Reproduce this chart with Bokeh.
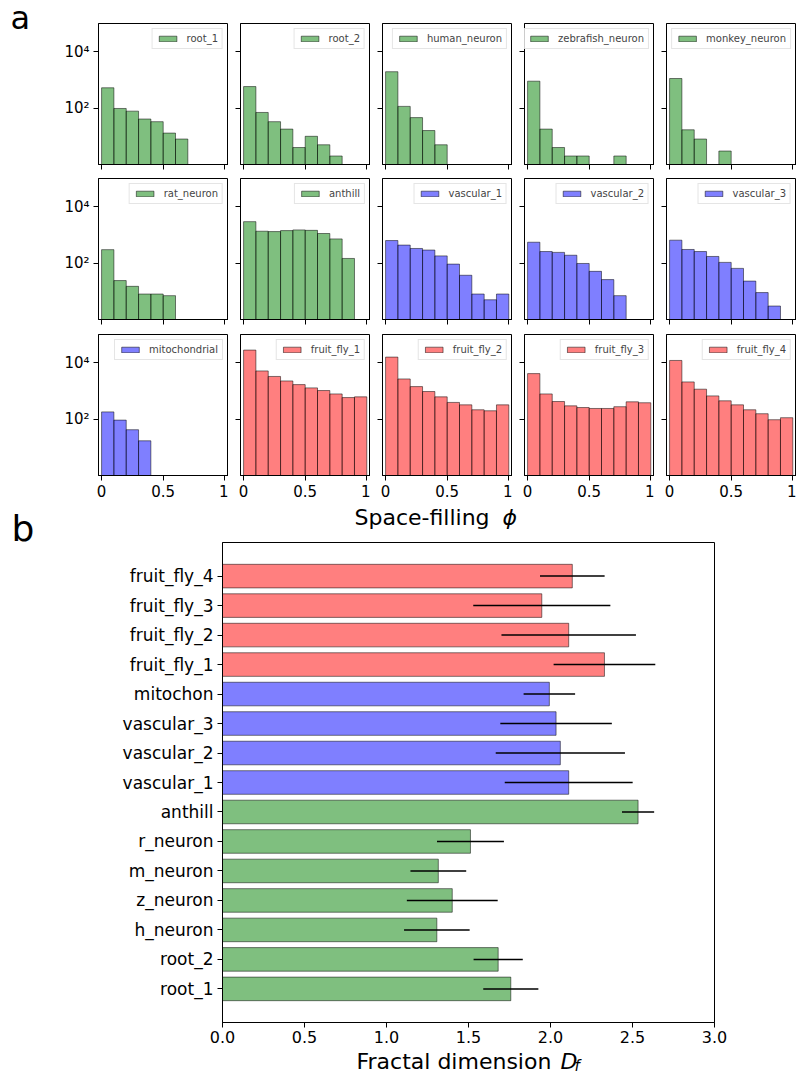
from bokeh.plotting import figure
from bokeh.layouts import column, row
from bokeh.models import Range1d, FixedTicker, PrintfTickFormatter, Plot
from bokeh.core.properties import value
from bokeh.embed import file_html
from bokeh.resources import INLINE

FONT = "DejaVu Sans"

# ---------------- data: panel a (histograms, 10 bins of space-filling phi) ----------------
bin_edges = [0.0, 0.1, 0.2, 0.3, 0.4, 0.5, 0.6, 0.7, 0.8, 0.9, 1.0]

root_1 = [525, 97, 78, 41, 33, 13, 8, 0, 1, 0]
root_2 = [580, 70, 33, 18, 4, 10, 5, 2, 1, 0]
human_neuron = [1950, 115, 46, 16, 5, 1, 0, 0, 0, 0]
zebrafish_neuron = [900, 18, 4, 2, 2, 1, 1, 2, 0, 0]
monkey_neuron = [1120, 17, 8, 1, 3, 0, 1, 0, 1, 0]
rat_neuron = [300, 24, 15, 8, 8, 7, 0, 0, 0, 0]
anthill = [2950, 1350, 1310, 1420, 1500, 1450, 1120, 720, 146, 0]
vascular_1 = [630, 435, 330, 290, 180, 92, 37, 8, 5, 8]
vascular_2 = [550, 257, 240, 190, 97, 51, 26, 7, 0, 0]
vascular_3 = [650, 304, 257, 172, 106, 65, 23, 9, 3, 0]
mitochondrial = [180, 92, 42, 17, 0, 0, 0, 0, 0, 0]
fruit_fly_1 = [28000, 5100, 3250, 2250, 1670, 1280, 1030, 780, 580, 615]
fruit_fly_2 = [15800, 2650, 1420, 950, 615, 390, 320, 214, 197, 320]
fruit_fly_3 = [4100, 780, 420, 295, 257, 238, 238, 275, 410, 380]
fruit_fly_4 = [12000, 2080, 1150, 665, 445, 320, 214, 155, 95, 112]

hist_names = ["root_1", "root_2", "human_neuron", "zebrafish_neuron", "monkey_neuron",
              "rat_neuron", "anthill", "vascular_1", "vascular_2", "vascular_3",
              "mitochondrial", "fruit_fly_1", "fruit_fly_2", "fruit_fly_3", "fruit_fly_4"]
hist_counts = [root_1, root_2, human_neuron, zebrafish_neuron, monkey_neuron,
               rat_neuron, anthill, vascular_1, vascular_2, vascular_3,
               mitochondrial, fruit_fly_1, fruit_fly_2, fruit_fly_3, fruit_fly_4]
hist_groups = ["g", "g", "g", "g", "g",
               "g", "g", "b", "b", "b",
               "b", "r", "r", "r", "r"]

# ---------------- data: panel b (fractal dimension) ----------------
bar_names = ["root_1", "root_2", "h_neuron", "z_neuron", "m_neuron", "r_neuron", "anthill",
             "vascular_1", "vascular_2", "vascular_3", "mitochon",
             "fruit_fly_1", "fruit_fly_2", "fruit_fly_3", "fruit_fly_4"]
bar_values = [1.758, 1.681, 1.307, 1.401, 1.316, 1.512, 2.534,
              2.111, 2.060, 2.034, 1.993,
              2.329, 2.111, 1.947, 2.133]
bar_errors = [0.168, 0.150, 0.200, 0.277, 0.170, 0.204, 0.098,
              0.390, 0.394, 0.340, 0.157,
              0.310, 0.410, 0.418, 0.197]
bar_groups = ["g"] * 7 + ["b"] * 4 + ["r"] * 4

GROUP_COLORS = {"g": "green", "b": "blue", "r": "red"}

PAGE_W = 796
LETTER_W = 40
# keep every figure's frame where we put it (no cross-figure frame alignment)
FA = {"frame_align": False} if "frame_align" in Plot.properties() else {}
# the text glyph sits about 0.36 em lower than its anchor; compensate
BASE_SHIFT = 0.36


def style_axis(ax, size="15px", standoff=4):
    ax.axis_line_color = "black"
    ax.major_tick_line_color = "black"
    ax.major_tick_out = 5
    ax.major_tick_in = 0
    ax.minor_tick_out = 0
    ax.minor_tick_in = 0
    ax.minor_tick_line_color = None
    ax.major_label_text_font = FONT
    ax.major_label_text_font_size = size
    ax.major_label_text_color = "black"
    ax.major_label_standoff = standoff


def text_strip(width, height, items):
    """A borderless strip (pixel coordinates) that holds free-standing texts.
    items: (x, baseline_y, text, font_px, style)"""
    s = figure(width=width, height=height, x_range=Range1d(0, width),
               y_range=Range1d(height, 0), x_axis_location=None, y_axis_location=None,
               output_backend="svg", toolbar_location=None,
               min_border_left=0, min_border_right=0, min_border_top=0, min_border_bottom=0,
               **FA)
    s.outline_line_color = None
    s.xgrid.visible = False
    s.ygrid.visible = False
    for (tx, ty, txt, size, style) in items:
        s.text(x=[tx], y=[ty - BASE_SHIFT * size], text=[txt], text_font=value(FONT),
               text_font_size=value(f"{size}px"), text_font_style=value(style),
               text_baseline=value("alphabetic"), text_align=value("left"),
               text_color="black")
    return s


def make_hist(name, counts, color, ci, ri):
    if ci == 0:
        left_b = 58 if ri == 0 else 98
    else:
        left_b = 12
    top_b = 23 if ri == 0 else 0
    bottom_b = 29 if ri == 2 else (14 if ri == 0 else 15)
    w = left_b + 130
    h = top_b + 141 + bottom_b
    p = figure(width=w, height=h, y_axis_type="log",
               x_range=Range1d(-0.025, 1.03), y_range=Range1d(1, 1e5),
               output_backend="svg", toolbar_location=None,
               min_border_left=left_b, min_border_right=0,
               min_border_top=top_b, min_border_bottom=bottom_b, **FA)
    lefts, rights, tops = [], [], []
    for i, c in enumerate(counts):
        if c > 0:
            lefts.append(bin_edges[i])
            rights.append(bin_edges[i + 1])
            tops.append(c)
    p.quad(left=lefts, right=rights, bottom=1, top=tops,
           fill_color=color, fill_alpha=0.5, line_color="black", line_alpha=0.5,
           line_width=1, legend_label=name)
    p.xgrid.visible = False
    p.ygrid.visible = False
    p.outline_line_color = "black"
    p.outline_line_alpha = 1
    p.outline_line_width = 1
    p.background_fill_color = "white"
    p.border_fill_color = "white"

    style_axis(p.xaxis[0])
    style_axis(p.yaxis[0])
    p.xaxis.ticker = FixedTicker(ticks=[0, 0.5, 1], minor_ticks=[])
    p.yaxis.ticker = FixedTicker(ticks=[100, 10000], minor_ticks=[])
    if ri == 2:
        p.xaxis.major_label_overrides = {0: "0", 0.5: "0.5", 1: "1"}
    else:
        p.xaxis.major_label_overrides = {0: "", 0.5: "", 1: ""}
        p.xaxis.major_label_text_font_size = "0px"
        p.xaxis.major_label_standoff = 0
    if ci == 0:
        p.yaxis.major_label_overrides = {100: "10²", 10000: "10⁴"}
    else:
        p.yaxis.major_label_overrides = {100: "", 10000: ""}
        p.yaxis.major_label_text_font_size = "0px"
        p.yaxis.major_label_standoff = 0

    lg = p.legend[0]
    lg.location = "top_right"
    lg.margin = 5
    lg.padding = 4
    lg.spacing = 0
    lg.glyph_width = 22
    lg.glyph_height = 7
    lg.label_standoff = 8
    lg.label_height = 10
    lg.label_text_font = FONT
    lg.label_text_font_size = "10px"
    lg.label_text_baseline = "middle"
    lg.border_line_color = "#cccccc"
    lg.border_line_width = 1
    lg.background_fill_alpha = 0.8
    return p


rows = []
for ri in range(3):
    figs = []
    for ci in range(5):
        k = ri * 5 + ci
        figs.append(make_hist(hist_names[k], hist_counts[k],
                              GROUP_COLORS[hist_groups[k]], ci, ri))
    if ri == 0:
        # narrow strip on the left carrying the panel letter "a"
        figs.insert(0, column(text_strip(LETTER_W, figs[0].height,
                                         [(10, 29.5, "a", 32, "normal")])))
    rows.append(row(*figs, spacing=0))

# ---------------- panel b ----------------
PB_TOP, PB_FRAME, PB_BOTTOM = 2, 480, 27
pb = figure(width=PAGE_W - LETTER_W, height=PB_TOP + PB_FRAME + PB_BOTTOM,
            x_range=Range1d(0, 3), y_range=Range1d(-1.14, 15.14),
            output_backend="svg", toolbar_location=None,
            min_border_left=222 - LETTER_W, min_border_right=82,
            min_border_top=PB_TOP, min_border_bottom=PB_BOTTOM, **FA)
ys = list(range(len(bar_names)))
bar_colors = [GROUP_COLORS[g] for g in bar_groups]
pb.hbar(y=ys, left=0, right=bar_values, height=0.8,
        fill_color=bar_colors, fill_alpha=0.5, line_color="black", line_alpha=0.5, line_width=1)
pb.segment(x0=[v - e for v, e in zip(bar_values, bar_errors)], y0=ys,
           x1=[v + e for v, e in zip(bar_values, bar_errors)], y1=ys,
           line_color="black", line_width=1.5)
pb.xgrid.visible = False
pb.ygrid.visible = False
pb.outline_line_color = "black"
pb.outline_line_alpha = 1
pb.outline_line_width = 1
style_axis(pb.xaxis[0], "16px", 3)
style_axis(pb.yaxis[0], "17px", 4)
pb.xaxis.ticker = FixedTicker(ticks=[0, 0.5, 1.0, 1.5, 2.0, 2.5, 3.0], minor_ticks=[])
pb.xaxis.formatter = PrintfTickFormatter(format="%.1f")
pb.yaxis.ticker = FixedTicker(ticks=ys, minor_ticks=[])
pb.yaxis.major_label_overrides = {i: n for i, n in enumerate(bar_names)}

STRIP_B_H, STRIP_C_H = 36, 26
# strip above panel b: x label of panel a
strip_b = text_strip(PAGE_W - LETTER_W, STRIP_B_H,
                     [(354 - LETTER_W, 21, "Space-filling ", 22, "normal"),
                      (502 - LETTER_W, 21, "ϕ", 22, "italic")])
# strip below panel b: x label of panel b
strip_c = text_strip(PAGE_W - LETTER_W, STRIP_C_H,
                     [(356 - LETTER_W, 20.2, "Fractal dimension ", 22, "normal"),
                      (560 - LETTER_W, 20.2, "D", 22, "italic"),
                      (574 - LETTER_W, 22.2, "f", 15, "italic")])
# narrow strip on the left carrying the panel letter "b"
strip_letter_b = text_strip(LETTER_W, STRIP_B_H + pb.height + STRIP_C_H,
                            [(11, 37.3, "b", 36, "normal")])

bottom = row(column(strip_letter_b),
             column(row(strip_b), row(pb), row(strip_c), spacing=0), spacing=0)

layout = column(rows[0], rows[1], rows[2], bottom, spacing=0)

open("out.html", "w").write(file_html(layout, INLINE))
